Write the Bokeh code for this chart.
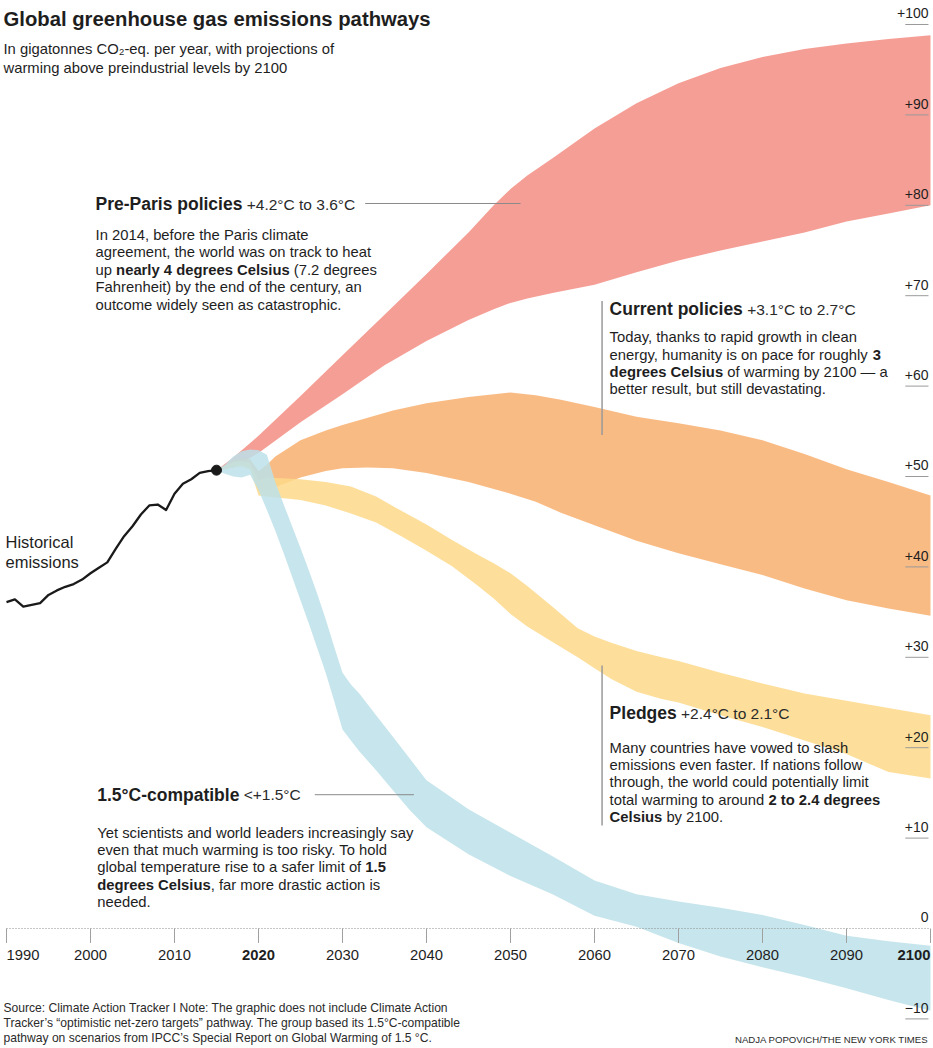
from bokeh.plotting import figure
from bokeh.models import Range1d, ColumnDataSource
from bokeh.core.properties import value
from bokeh.embed import file_html
from bokeh.resources import INLINE

# ---------------- data ----------------
hist_years = list(range(1990, 2016))
hist_vals = [36.1, 36.4, 35.6, 35.8, 36.0, 36.9, 37.4, 37.8, 38.1, 38.6,
             39.3, 39.9, 40.5, 42.0, 43.4, 44.5, 45.8, 46.8, 46.9, 46.3,
             48.1, 49.2, 49.7, 50.4, 50.6, 50.7]

pre_years = [2015, 2017, 2020, 2025, 2030, 2035, 2040, 2045, 2048, 2050,
             2052, 2055, 2060, 2065, 2070, 2075, 2080, 2085, 2090, 2095, 2100]
pre_high = [50.7, 52.1, 54.5, 58.9, 63.4, 67.9, 72.4, 77.0, 80.0, 81.8,
            83.3, 85.2, 88.5, 91.3, 93.5, 95.2, 96.4, 97.3, 97.9, 98.4, 98.8]
pre_low = [50.7, 51.0, 52.6, 56.0, 59.1, 62.3, 65.0, 67.3, 68.5, 69.2,
           69.7, 70.3, 71.2, 72.6, 73.9, 75.0, 76.0, 77.0, 78.2, 79.1, 80.0]

cur_years = [2015, 2017, 2018, 2019, 2020, 2021, 2022, 2025, 2028, 2030,
             2033, 2036, 2040, 2045, 2050, 2053, 2056, 2060, 2065, 2070,
             2075, 2080, 2085, 2090, 2095, 2100]
cur_high = [50.7, 51.8, 52.0, 51.9, 50.6, 51.3, 52.2, 54.0, 55.1, 55.7,
            56.5, 57.3, 58.1, 58.8, 59.3, 59.0, 58.5, 57.7, 56.6, 55.9,
            55.1, 54.0, 52.5, 50.8, 49.4, 47.9]
cur_low = [50.7, 51.2, 51.3, 51.0, 48.4, 48.4, 48.8, 49.9, 50.6, 50.9,
           51.0, 50.9, 50.4, 49.4, 48.1, 47.2, 46.0, 44.6, 42.9, 41.5,
           40.3, 39.1, 37.6, 36.3, 35.4, 34.6]

pl_years = [2015, 2017, 2018, 2019, 2020, 2021, 2025, 2028, 2031, 2034,
            2037, 2040, 2043, 2046, 2048, 2050, 2052, 2055, 2058, 2060,
            2062, 2065, 2068, 2070, 2075, 2080, 2085, 2090, 2095, 2100]
pl_high = [50.7, 51.6, 51.7, 51.5, 49.6, 49.9, 49.7, 49.4, 48.9, 47.8,
           46.2, 44.7, 43.0, 41.4, 40.4, 39.3, 37.9, 35.6, 33.2, 32.3,
           31.6, 30.7, 30.0, 29.6, 28.3, 27.1, 26.0, 25.2, 24.4, 23.6]
pl_low = [50.7, 51.0, 51.1, 50.8, 47.9, 47.8, 47.4, 46.8, 45.9, 44.9,
          43.4, 41.8, 40.1, 38.0, 36.5, 34.8, 33.4, 31.7, 30.0, 28.8,
          27.6, 26.2, 25.4, 25.0, 23.6, 22.3, 20.8, 19.3, 17.3, 16.6]

c15_years = [2015, 2016, 2017, 2018, 2019, 2020, 2021, 2022, 2023, 2024,
             2025, 2026, 2027, 2028, 2029, 2030, 2031, 2032, 2034, 2036,
             2038, 2040, 2045, 2050, 2055, 2060, 2065, 2070, 2075, 2080,
             2085, 2090, 2095, 2100]
c15_high = [50.7, 51.3, 52.2, 52.8, 53.0, 52.9, 52.4, 49.4, 46.9, 44.5,
            42.1, 39.6, 37.0, 34.2, 31.2, 28.3, 27.0, 26.0, 23.6, 21.2,
            18.8, 16.4, 13.2, 10.6, 8.0, 5.3, 3.8, 3.0, 2.3, 1.5,
            0.4, -0.8, -1.4, -1.9]
c15_low = [50.7, 50.3, 50.0, 49.9, 50.2, 48.5, 46.3, 44.0, 41.5, 38.9,
           36.3, 33.7, 31.0, 28.3, 25.2, 22.0, 20.8, 19.6, 17.5, 15.3,
           13.1, 11.2, 8.2, 5.8, 3.8, 1.4, 0.2, -1.6, -3.1, -4.3,
           -5.4, -6.6, -7.9, -9.1]

xtick_years = [1990, 2000, 2010, 2020, 2030, 2040, 2050, 2060, 2070, 2080, 2090, 2100]
xtick_labels = ["1990", "2000", "2010", "2020", "2030", "2040", "2050", "2060",
                "2070", "2080", "2090", "2100"]
xtick_bold = ["2020", "2100"]
ytick_vals = [100, 90, 80, 70, 60, 50, 40, 30, 20, 10, 0, -10]
ytick_labels = ["+100", "+90", "+80", "+70", "+60", "+50", "+40", "+30", "+20",
                "+10", "0", "\u221210"]

title = "Global greenhouse gas emissions pathways"
subtitle = ["In gigatonnes CO\u2082-eq. per year, with projections of",
            "warming above preindustrial levels by 2100"]
source_lines = [
    "Source: Climate Action Tracker I Note: The graphic does not include Climate Action",
    "Tracker\u2019s \u201coptimistic net-zero targets\u201d pathway. The group based its 1.5\u00b0C-compatible",
    "pathway on scenarios from IPCC\u2019s Special Report on Global Warming of 1.5 \u00b0C.",
]
credit = "NADJA POPOVICH/THE NEW YORK TIMES"

pre_head = [("Pre-Paris policies", True), (" +4.2\u00b0C to 3.6\u00b0C", False)]
pre_body = [
    [("In 2014, before the Paris climate", False)],
    [("agreement, the world was on track to heat", False)],
    [("up ", False), ("nearly 4 degrees Celsius", True), (" (7.2 degrees", False)],
    [("Fahrenheit) by the end of the century, an", False)],
    [("outcome widely seen as catastrophic.", False)],
]
cur_head = [("Current policies", True), (" +3.1\u00b0C to 2.7\u00b0C", False)]
cur_body = [
    [("Today, thanks to rapid growth in clean", False)],
    [("energy, humanity is on pace for roughly ", False), ("3", True)],
    [("degrees Celsius", True), (" of warming by 2100 \u2014 a", False)],
    [("better result, but still devastating.", False)],
]
pl_head = [("Pledges", True), (" +2.4\u00b0C to 2.1\u00b0C", False)]
pl_body = [
    [("Many countries have vowed to slash", False)],
    [("emissions even faster. If nations follow", False)],
    [("through, the world could potentially limit", False)],
    [("total warming to around ", False), ("2 to 2.4 degrees", True)],
    [("Celsius", True), (" by 2100.", False)],
]
c15_head = [("1.5\u00b0C-compatible", True), (" <+1.5\u00b0C", False)]
c15_body = [
    [("Yet scientists and world leaders increasingly say", False)],
    [("even that much warming is too risky. To hold", False)],
    [("global temperature rise to a safer limit of ", False), ("1.5", True)],
    [("degrees Celsius", True), (", far more drastic action is", False)],
    [("needed.", False)],
]

# ---------------- layout ----------------
W, H = 931, 1046
PXY = 8.4       # px per year
PXV = 9.04      # px per unit
X0 = 1990 - 6.0 / PXY
ZERO_PX = 928
Y_TOP = ZERO_PX / PXV
FONT = "Liberation Sans"

p = figure(width=W, height=H, output_backend="svg", toolbar_location=None,
           x_range=Range1d(X0, X0 + W / PXY), y_range=Range1d(Y_TOP - H / PXV, Y_TOP),
           x_axis_location=None, y_axis_location=None, min_border=0,
           background_fill_color="white", border_fill_color="white")
p.grid.visible = False
p.outline_line_color = None

# Helvetica / Arial metrics for aligning mixed-weight runs
REG_UP = [667,667,722,722,667,611,778,722,278,500,667,556,833,722,778,667,778,722,667,611,722,667,944,667,667,611]
REG_LO = [556,556,500,556,556,278,556,556,222,222,500,222,833,556,556,556,556,333,500,278,556,500,722,500,500,500]
BLD_UP = [722,722,722,722,667,611,778,722,278,556,722,611,833,722,778,667,778,722,667,611,722,667,944,667,667,611]
BLD_LO = [556,611,556,611,556,333,611,611,278,278,556,278,889,611,611,611,611,389,556,333,611,556,778,556,556,500]
REG_P = {' ': 278, ',': 278, '.': 278, '-': 333, '(': 333, ')': 333, '+': 584, '<': 584,
         '\u00b0': 400, '\u2014': 1000, ':': 278}
BLD_P = {' ': 278, ',': 278, '.': 278, '-': 333, '(': 333, ')': 333, '+': 584, '<': 584,
         '\u00b0': 400, '\u2014': 1000, ':': 333}


def text_width(s, bold, size):
    up, lo, pu = (BLD_UP, BLD_LO, BLD_P) if bold else (REG_UP, REG_LO, REG_P)
    w = 0
    for ch in s:
        if 'A' <= ch <= 'Z':
            w += up[ord(ch) - 65]
        elif 'a' <= ch <= 'z':
            w += lo[ord(ch) - 97]
        elif ch.isdigit():
            w += 556
        else:
            w += pu.get(ch, 556)
    return w / 1000.0 * size


def add_text(xs, ys, texts, size, bold=False, color="#1e1e1e", align="left",
             baseline="middle", xo=None):
    src = ColumnDataSource(dict(x=xs, y=ys, text=texts, xo=xo or [0] * len(xs)))
    p.text(x="x", y="y", text="text", x_offset="xo", source=src,
           text_font=value(FONT), text_font_size=f"{size}px",
           text_font_style="bold" if bold else "normal", text_color=color,
           text_align=align, text_baseline=baseline)


def rich(x, y, segs, size_b, size_r, color_r="#1e1e1e"):
    off = 0.0
    for txt, b in segs:
        size = size_b if b else size_r
        lead = len(txt) - len(txt.lstrip(" "))
        t = txt.strip(" ")
        add_text([x], [y], [t], size, bold=b, color="#1e1e1e" if b else color_r,
                 xo=[off + text_width(" " * lead, b, size)])
        off += text_width(txt, b, size)


# ---------------- bands ----------------
bands = [
    (pre_years, pre_low, pre_high, "#f38d83"),
    (cur_years, cur_low, cur_high, "#f8af6f"),
    (pl_years, pl_low, pl_high, "#fdd989"),
    (c15_years, c15_low, c15_high, "#bce1e9"),
]
for yrs, lo, hi, col in bands:
    p.varea(x=yrs, y1=lo, y2=hi, fill_color=col, fill_alpha=0.85)

# ---------------- axes (drawn) ----------------
p.segment(x0=[xtick_years[0]], y0=[0], x1=[xtick_years[-1]], y1=[0],
          line_color="#8c8c8c", line_width=1, line_dash="1 2")
p.segment(x0=xtick_years, y0=[0] * len(xtick_years), x1=xtick_years,
          y1=[-1.6] * len(xtick_years), line_color="#a0a0a0", line_width=1)
for yr, lab in zip(xtick_years, xtick_labels):
    al = "left" if yr == xtick_years[0] else ("right" if yr == xtick_years[-1] else "center")
    add_text([yr], [-2.9], [lab], 14.8, bold=lab in xtick_bold, color="#1e1e1e", align=al)

yl = [v for v in ytick_vals if v != 0]
p.segment(x0=[2097.0] * len(yl), y0=yl, x1=[2099.76] * len(yl), y1=yl,
          line_color="#9a9a9a", line_width=1)
add_text([2099.76] * len(ytick_vals), [v + 1.22 for v in ytick_vals], ytick_labels, 14,
         color="#1e1e1e", align="right")

# ---------------- historical ----------------
p.line(hist_years, hist_vals, line_color="#1a1a1a", line_width=2.3, line_join="round")
p.scatter([hist_years[-1]], [hist_vals[-1]], size=10, color="#1a1a1a")
add_text([1989.88, 1989.88], [42.7, 40.5], ["Historical", "emissions"], 16.5)

# ---------------- leader lines ----------------
p.segment(x0=[2032.7, 2026.7], y0=[80.2, 14.8], x1=[2051.2, 2038.5], y1=[80.2, 14.8],
          line_color="#8a8a8a", line_width=1)
p.segment(x0=[2060.9, 2060.9], y0=[69.4, 29.1], x1=[2060.9, 2060.9], y1=[54.6, 11.4],
          line_color="#9a9a9a", line_width=1.5)

# ---------------- annotation blocks ----------------
LS = 1.92
blocks = [
    (2000.6, 80.1, pre_head, 76.7, pre_body),
    (2061.8, 68.5, cur_head, 65.4, cur_body),
    (2061.8, 23.8, pl_head, 20.0, pl_body),
    (2000.8, 14.8, c15_head, 10.6, c15_body),
]
for bx, hy, head, by, body in blocks:
    rich(bx, hy, head, 17.5, 15.5, color_r="#2a2a2a")
    for i, segs in enumerate(body):
        rich(bx, by - i * LS, segs, 14.8, 14.8)

# ---------------- titles and notes ----------------
add_text([1989.64], [100.66], [title], 20.3, bold=True)
add_text([1989.64, 1989.64], [97.29, 95.24], subtitle, 14.8)
add_text([1989.64] * 3, [-8.75, -10.42, -12.08], source_lines, 12.1, color="#2a2a2a")
add_text([2099.76], [-12.25], [credit], 9.6, color="#2a2a2a", align="right")

with open("out.html", "w", encoding="utf-8") as f:
    f.write(file_html(p, INLINE))
